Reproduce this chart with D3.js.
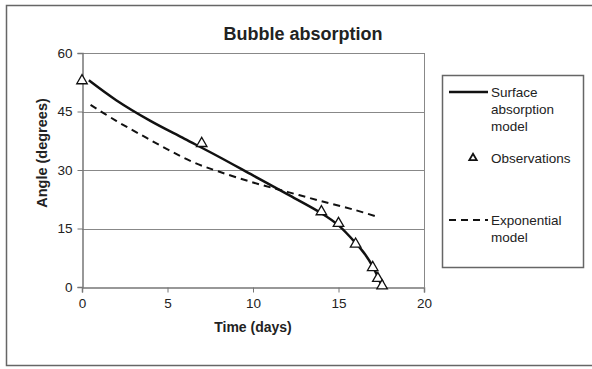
<!DOCTYPE html>
<html>
<head>
<meta charset="utf-8">
<script src="https://cdn.jsdelivr.net/npm/d3@7"></script>
<style>
  body { margin: 0; background: #fff; }
  svg text { font-family: "Liberation Sans", Arial, sans-serif; fill: #222; }
</style>
</head>
<body>
<svg id="chart" width="592" height="369"></svg>
<script>
// observed angles
const obsTime = [0, 7, 14, 15, 16, 17, 17.3, 17.55];
const obsAngle = [52.9, 36.8, 19.3, 16.3, 11.0, 5.0, 2.2, 0.3];

// surface absorption model curve
const surfTime = [0.4, 2, 4, 6, 8, 10, 12, 14, 15, 16, 16.6, 17, 17.3, 17.55];
const surfAngle = [53, 47.9, 42.6, 38.0, 33.4, 28.6, 23.8, 18.9, 15.8, 11.3, 8.1, 5.3, 2.6, 0];

// exponential model curve
const expTime = [0.5, 2, 3.5, 5, 6.5, 8, 10, 12, 14, 16, 17.2];
const expAngle = [46.7, 42.6, 38.9, 35.3, 32.0, 29.6, 26.8, 24.4, 22.0, 19.7, 18.1];

const xTicks = [0, 5, 10, 15, 20];
const yTicks = [0, 15, 30, 45, 60];

const legendItems = [
  { kind: 'solid', lines: ['Surface', 'absorption', 'model'] },
  { kind: 'marker', lines: ['Observations'] },
  { kind: 'dash', lines: ['Exponential', 'model'] }
];

const svg = d3.select('#chart');

// outer frame (right edge falls outside the picture)
svg.append('rect')
  .attr('x', 6.5).attr('y', 5.5)
  .attr('width', 600).attr('height', 360)
  .attr('fill', 'none').attr('stroke', '#666').attr('stroke-width', 1.5);

const x = d3.scaleLinear().domain([0, 20]).range([82, 424]);
const y = d3.scaleLinear().domain([0, 60]).range([287, 53]);

// gridlines
svg.append('g')
  .selectAll('line')
  .data(yTicks.filter(d => d > 0))
  .enter().append('line')
  .attr('x1', x(0)).attr('x2', x(20))
  .attr('y1', d => Math.round(y(d)) + 0.5).attr('y2', d => Math.round(y(d)) + 0.5)
  .attr('stroke', '#888').attr('stroke-width', 1);

// right edge of the plot area
svg.append('line')
  .attr('x1', x(20) + 0.5).attr('x2', x(20) + 0.5)
  .attr('y1', y(60)).attr('y2', y(0))
  .attr('stroke', '#888');

const xAxis = svg.append('g')
  .attr('transform', `translate(0,${Math.round(y(0)) + 0.5})`)
  .call(d3.axisBottom(x).tickValues(xTicks).tickSize(5).tickPadding(6));
const yAxis = svg.append('g')
  .attr('transform', `translate(${Math.round(x(0)) + 0.5},0)`)
  .call(d3.axisLeft(y).tickValues(yTicks).tickSize(5).tickPadding(5));

[xAxis, yAxis].forEach(g => {
  g.select('.domain').attr('stroke', '#777').attr('stroke-width', 1.5);
  g.selectAll('.tick line').attr('stroke', '#777');
  g.selectAll('.tick text')
    .style('font-size', '13.5px')
    .style('font-family', '"Liberation Sans", Arial, sans-serif')
    .attr('fill', '#333');
});

// model curves
const lineGen = d3.line()
  .x(d => x(d[0])).y(d => y(d[1]))
  .curve(d3.curveCatmullRom);

svg.append('path')
  .datum(expTime.map((t, i) => [t, expAngle[i]]))
  .attr('d', lineGen)
  .attr('fill', 'none').attr('stroke', '#111')
  .attr('stroke-width', 2).attr('stroke-dasharray', '7,5');

svg.append('path')
  .datum(surfTime.map((t, i) => [t, surfAngle[i]]))
  .attr('d', lineGen)
  .attr('fill', 'none').attr('stroke', '#111')
  .attr('stroke-width', 2.5);

// observation markers
const tri = d3.symbol().type(d3.symbolTriangle).size(48);
svg.append('g')
  .selectAll('path')
  .data(obsTime.map((t, i) => [t, obsAngle[i]]))
  .enter().append('path')
  .attr('d', tri)
  .attr('transform', d => `translate(${x(d[0])},${y(d[1])})`)
  .attr('fill', '#fff').attr('stroke', '#111').attr('stroke-width', 1.3);

// titles
svg.append('text')
  .attr('x', 303).attr('y', 40)
  .attr('text-anchor', 'middle')
  .style('font-size', '18px').style('font-weight', 'bold')
  .text('Bubble absorption');

svg.append('text')
  .attr('x', 253).attr('y', 332)
  .attr('text-anchor', 'middle')
  .style('font-size', '14px').style('font-weight', 'bold')
  .text('Time (days)');

svg.append('text')
  .attr('transform', 'translate(47,153) rotate(-90)')
  .attr('text-anchor', 'middle')
  .style('font-size', '14.5px').style('font-weight', 'bold')
  .text('Angle (degrees)');

// legend
const legend = svg.append('g');
legend.append('rect')
  .attr('x', 442.5).attr('y', 75.5)
  .attr('width', 141).attr('height', 192)
  .attr('fill', '#fff').attr('stroke', '#666').attr('stroke-width', 1.5);

const legendY = [92, 158, 220];
legendItems.forEach((item, i) => {
  const cy = legendY[i];
  if (item.kind === 'solid') {
    legend.append('line')
      .attr('x1', 449).attr('x2', 488).attr('y1', cy).attr('y2', cy)
      .attr('stroke', '#111').attr('stroke-width', 2.5);
  } else if (item.kind === 'dash') {
    legend.append('line')
      .attr('x1', 449).attr('x2', 488).attr('y1', cy).attr('y2', cy)
      .attr('stroke', '#111').attr('stroke-width', 2).attr('stroke-dasharray', '7,5');
  } else {
    legend.append('path')
      .attr('d', d3.symbol().type(d3.symbolTriangle).size(24))
      .attr('transform', `translate(473,${cy})`)
      .attr('fill', '#fff').attr('stroke', '#111').attr('stroke-width', 1.8);
  }
  const t = legend.append('text')
    .attr('x', 491).attr('y', cy + 5)
    .style('font-size', '13.5px');
  item.lines.forEach((ln, j) => {
    t.append('tspan').attr('x', 491).attr('dy', j === 0 ? 0 : 17).text(ln);
  });
});
</script>
</body>
</html>
